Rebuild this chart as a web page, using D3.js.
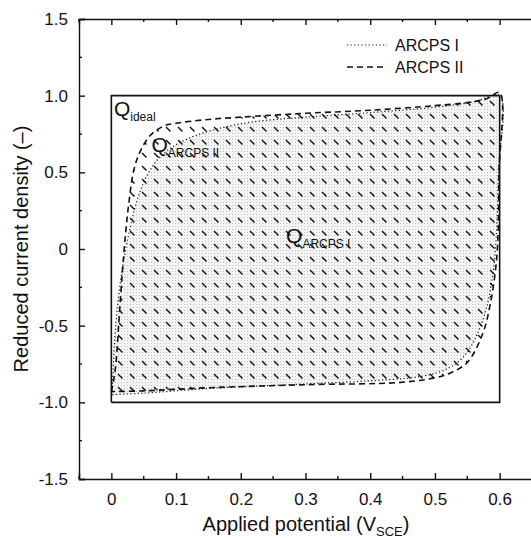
<!DOCTYPE html>
<html>
<head>
<meta charset="utf-8">
<script src="https://cdn.jsdelivr.net/npm/d3@7"></script>
<style>
  body { margin: 0; background: #fff; }
  svg text { font-family: "Liberation Sans", Arial, sans-serif; fill: #111; }
  .axis path, .axis line { stroke: #111; stroke-width: 1.4; }
  .axis text { font-size: 17px; }
</style>
</head>
<body>
<div id="wrapper"></div>
<script>
// ARCPS II (dashed) CV loop: forward sweep then reverse sweep
const arcps2X = [0, 0.003, 0.007, 0.012, 0.017, 0.022, 0.027, 0.035, 0.045, 0.06, 0.08, 0.1, 0.15, 0.2, 0.3, 0.4, 0.5, 0.55, 0.58, 0.6,
                 0.599, 0.597, 0.593, 0.585, 0.574, 0.55, 0.523, 0.5, 0.447, 0.3, 0.15, 0.05, 0];
const arcps2Y = [-0.93, -0.87, -0.75, -0.45, -0.15, 0.1, 0.3, 0.52, 0.64, 0.74, 0.8, 0.82, 0.845, 0.86, 0.885, 0.905, 0.935, 0.955, 0.98, 1.02,
                 0.5, 0.04, -0.16, -0.37, -0.55, -0.74, -0.81, -0.84, -0.87, -0.885, -0.905, -0.925, -0.93];
// ARCPS I (dotted) CV loop
const arcps1X = [0, 0.002, 0.005, 0.01, 0.018, 0.028, 0.04, 0.055, 0.075, 0.1, 0.13, 0.17, 0.22, 0.3, 0.4, 0.5, 0.56, 0.6,
                 0.598, 0.595, 0.59, 0.58, 0.565, 0.545, 0.52, 0.48, 0.4, 0.3, 0.15, 0.05, 0];
const arcps1Y = [-0.95, -0.85, -0.6, -0.35, -0.1, 0.12, 0.32, 0.48, 0.6, 0.68, 0.74, 0.79, 0.83, 0.86, 0.89, 0.925, 0.96, 1.0,
                 0.5, 0.1, -0.15, -0.38, -0.56, -0.7, -0.78, -0.83, -0.86, -0.88, -0.91, -0.94, -0.95];
// ideal rectangle corners
const idealX = [0, 0.6, 0.6, 0, 0];
const idealY = [-1, -1, 1, 1, -1];

const xTicks = [0, 0.1, 0.2, 0.3, 0.4, 0.5, 0.6];
const yTicks = [-1.5, -1.0, -0.5, 0, 0.5, 1.0, 1.5];
const yTickLabels = ["-1.5", "-1.0", "-0.5", "0", "0.5", "1.0", "1.5"];
const legendLabels = ["ARCPS I", "ARCPS II"];

const dimensions = {
    width: 531,
    height: 538,
    margin: { top: 19, right: -1, bottom: 59, left: 79 },
};
dimensions.boundedWidth = dimensions.width - dimensions.margin.left - dimensions.margin.right;
dimensions.boundedHeight = dimensions.height - dimensions.margin.top - dimensions.margin.bottom;

const svg = d3.select("#wrapper").append("svg")
    .attr("width", dimensions.width)
    .attr("height", dimensions.height);

const defs = svg.append("defs");
// light gray stipple for Q_ARCPS I
const stipple = defs.append("pattern")
    .attr("id", "stipple")
    .attr("patternUnits", "userSpaceOnUse")
    .attr("width", 3).attr("height", 3);
stipple.append("rect").attr("width", 3).attr("height", 3).attr("fill", "#f4f4f4");
stipple.append("rect").attr("width", 1).attr("height", 1).attr("fill", "#c2c2c2");
// short diagonal dashes for Q_ARCPS II
const hatch = defs.append("pattern")
    .attr("id", "hatch")
    .attr("patternUnits", "userSpaceOnUse")
    .attr("width", 12).attr("height", 13);
hatch.append("line")
    .attr("x1", 3).attr("y1", 4).attr("x2", 7.5).attr("y2", 8.5)
    .attr("stroke", "#111").attr("stroke-width", 1.4);

const bounds = svg.append("g")
    .attr("transform", `translate(${dimensions.margin.left},${dimensions.margin.top})`);

const xScale = d3.scaleLinear().domain([-0.05, 0.65]).range([0, dimensions.boundedWidth]);
const yScale = d3.scaleLinear().domain([-1.5, 1.5]).range([dimensions.boundedHeight, 0]);

const toPoints = (xs, ys) => xs.map((x, i) => [x, ys[i]]);
const loop = d3.line()
    .x(d => xScale(d[0]))
    .y(d => yScale(d[1]))
    .curve(d3.curveCatmullRom.alpha(0.5));

const pts2 = toPoints(arcps2X, arcps2Y);
const pts1 = toPoints(arcps1X, arcps1Y);

// fills
bounds.append("path").attr("d", loop(pts1) + "Z").attr("fill", "url(#stipple)");
bounds.append("path").attr("d", loop(pts2) + "Z").attr("fill", "url(#hatch)");

// curves
bounds.append("path").attr("d", loop(pts1))
    .attr("fill", "none").attr("stroke", "#111").attr("stroke-width", 1.2)
    .attr("stroke-dasharray", "1.2,2.4");
bounds.append("path").attr("d", loop(pts2))
    .attr("fill", "none").attr("stroke", "#111").attr("stroke-width", 1.6)
    .attr("stroke-dasharray", "6,4");

// ideal rectangle
bounds.append("path")
    .attr("d", d3.line().x(d => xScale(d[0])).y(d => yScale(d[1]))(toPoints(idealX, idealY)))
    .attr("fill", "none").attr("stroke", "#111").attr("stroke-width", 1.6);

// axes
const xMinor = d3.range(-0.05, 0.66, 0.05).filter(v => Math.abs(Math.round(v * 10) - v * 10) > 0.01);
const yMinor = d3.range(-1.25, 1.5, 0.5);

const xAxis = d3.axisBottom(xScale).tickValues(xTicks).tickSize(-6).tickPadding(14);
const xAxisG = bounds.append("g").attr("class", "axis")
    .attr("transform", `translate(0,${dimensions.boundedHeight})`).call(xAxis);
xAxisG.selectAll(".tick text").text(d => d === 0 ? "0" : d3.format(".1f")(d));
xAxisG.append("g").selectAll("line").data(xMinor).join("line")
    .attr("x1", d => xScale(d)).attr("x2", d => xScale(d)).attr("y1", 0).attr("y2", -3);

const xTop = bounds.append("g").attr("class", "axis")
    .call(d3.axisTop(xScale).tickValues(xTicks).tickSize(-6).tickFormat(""));
xTop.append("g").selectAll("line").data(xMinor).join("line")
    .attr("x1", d => xScale(d)).attr("x2", d => xScale(d)).attr("y1", 0).attr("y2", 3);

const yAxis = d3.axisLeft(yScale).tickValues(yTicks).tickSize(-6).tickPadding(11)
    .tickFormat((d, i) => yTickLabels[i]);
const yAxisG = bounds.append("g").attr("class", "axis").call(yAxis);
yAxisG.append("g").selectAll("line").data(yMinor).join("line")
    .attr("y1", d => yScale(d)).attr("y2", d => yScale(d)).attr("x1", 0).attr("x2", 3);
bounds.selectAll(".axis .domain").attr("stroke-width", 1.6);

// right frame line
bounds.append("line")
    .attr("x1", dimensions.boundedWidth).attr("x2", dimensions.boundedWidth)
    .attr("y1", 0).attr("y2", dimensions.boundedHeight)
    .attr("stroke", "#111").attr("stroke-width", 1.6);

// axis titles
const xTitle = svg.append("text")
    .attr("x", 306).attr("y", 531)
    .attr("text-anchor", "middle")
    .style("font-size", "20px");
xTitle.append("tspan").text("Applied potential  (V");
xTitle.append("tspan").attr("dy", 5).style("font-size", "13px").text("SCE");
xTitle.append("tspan").attr("dy", -5).text(")");

svg.append("text")
    .attr("transform", `translate(28,${dimensions.margin.top + yScale(0)}) rotate(-90)`)
    .attr("text-anchor", "middle")
    .style("font-size", "20px")
    .text("Reduced current density (\u2013)");

// region labels
const qLabel = (x, y, sub) => {
    const t = bounds.append("text").attr("x", xScale(x)).attr("y", yScale(y)).style("font-size", "21px");
    t.append("tspan").text("Q");
    t.append("tspan").attr("dy", 5).style("font-size", "12px").text(sub);
};
qLabel(0.004, 0.87, "ideal");
qLabel(0.062, 0.63, "ARCPS II");
qLabel(0.27, 0.04, "ARCPS I");

// legend
const legend = svg.append("g").attr("transform", "translate(347,45)");
const legendStyles = [
    { dash: "1.2,2.4", width: 1.2 },
    { dash: "6,4", width: 1.6 },
];
legendLabels.forEach((label, i) => {
    const row = legend.append("g").attr("transform", `translate(0,${i * 22})`);
    row.append("line")
        .attr("x1", 0).attr("x2", 40).attr("y1", 0).attr("y2", 0)
        .attr("stroke", "#111")
        .attr("stroke-width", legendStyles[i].width)
        .attr("stroke-dasharray", legendStyles[i].dash);
    row.append("text")
        .attr("x", 48).attr("y", 6)
        .style("font-size", "16px")
        .text(label);
});
</script>
</body>
</html>
